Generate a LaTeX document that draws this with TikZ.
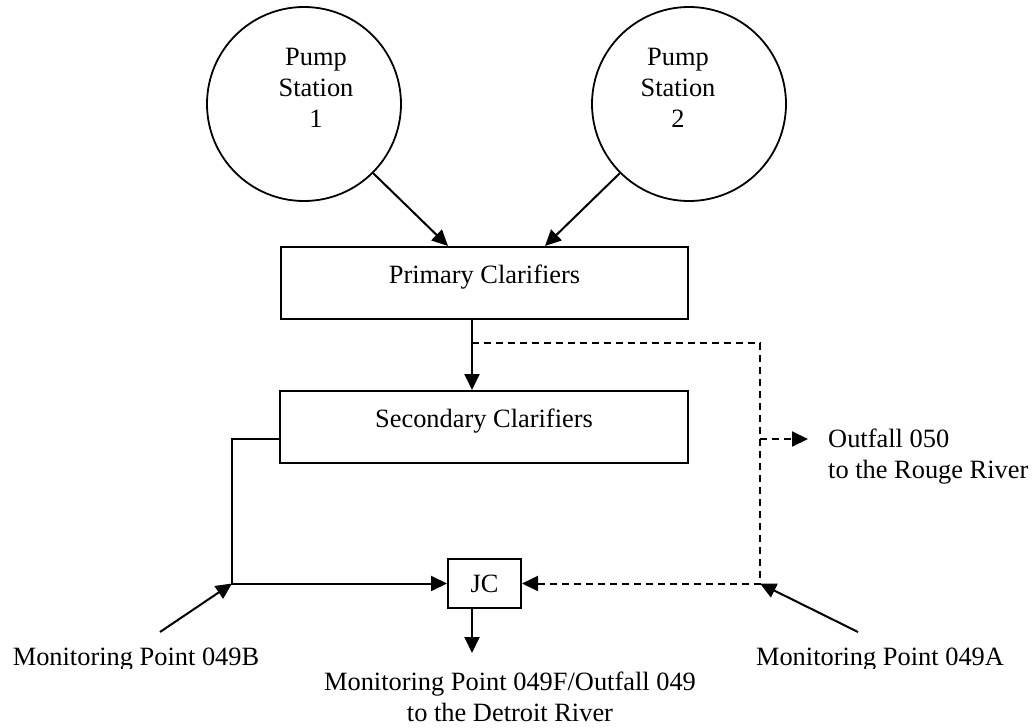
\documentclass[tikz,border=0pt]{standalone}
\usepackage{fontspec}
\setmainfont{Liberation Serif}
\usetikzlibrary{positioning,arrows.meta}

\begin{document}
\begin{tikzpicture}[x=1pt, y=-1pt,
  every node/.style={font=\fontsize{26.4}{30.5}\selectfont},
  tank/.style={draw, circle, line width=1.8pt, minimum size=194pt, inner sep=0pt},
  unit/.style={draw, rectangle, line width=2pt, inner sep=0pt},
  pipe/.style={line width=2pt},
  flow/.style={pipe, -{Triangle[length=16pt,width=15pt]}},
  flowd/.style={flow, dash pattern=on 7pt off 5pt}]
\useasboundingbox (0,0) rectangle (1036,728);

\def\xs{472};
\def\xl{232};
\def\xr{760};
\def\ya{343};
\def\yb{439};
\def\yc{583.5};

\node[tank] (ps1) at (304,104) {};
\node[tank] (ps2) at (689,104) {};
\node[align=center, font=\fontsize{26.4}{31}\selectfont] (ps1t) at (316,88) {Pump\\Station\\1};
\node[align=center, font=\fontsize{26.4}{31}\selectfont] (ps2t) at (678,88) {Pump\\Station\\2};

\node[unit, minimum width=407pt, minimum height=72pt, text height=18pt, text depth=18pt] (prim) at (484.5,283) {Primary Clarifiers};
\node[unit, minimum width=408pt, minimum height=72pt, text height=18pt, text depth=18pt] (sec) at (484,427) {Secondary Clarifiers};
\node[unit, minimum width=73pt, minimum height=49pt] (jc) at (484.5,\yc) {JC};

\draw[flow] (ps1.south east) -- ([xshift=-36.5pt]prim.north);
\draw[flow] (ps2.south west) -- ([xshift=60.5pt]prim.north);

\coordinate (split) at (\xs,\ya);
\coordinate (ne) at (\xr,\ya);
\coordinate (out) at (\xr,\yb);
\coordinate (se) at (\xr,\yc);
\coordinate (sl) at (\xl,\yb);
\coordinate (bl) at (\xl,\yc);
\coordinate (outend) at (808,\yb);
\coordinate (dn) at (\xs,653);
\coordinate (pb) at (160,632);
\coordinate (pa) at (858,632);

\draw[flow] (prim.south -| split) -- (sec.north -| split);
\draw[flowd] (split) -- (ne) -- (se) -- (jc.east);
\draw[flowd] (out) -- (outend);
\draw[flow] (sec.west |- sl) -- (sl) -- (bl) -- (jc.west);
\draw[flow] (jc.south -| split) -- (dn);

\node[anchor=north west, align=left, inner sep=0pt] (outf) at (828,429) {Outfall 050\\to the Rouge River};
\node[anchor=north, align=center, inner sep=0pt] (mpf) at (510,672) {Monitoring Point 049F/Outfall 049\\to the Detroit River};
\begin{scope}
\clip (0,0) rectangle (1036,668);
\node[anchor=base] (mpb) at (136,665) {Monitoring Point 049B};
\node[anchor=base] (mpa) at (880,665) {Monitoring Point 049A};
\end{scope}

\draw[flow] (pb) -- (bl);
\draw[flow] (pa) -- (se);

\end{tikzpicture}
\end{document}
